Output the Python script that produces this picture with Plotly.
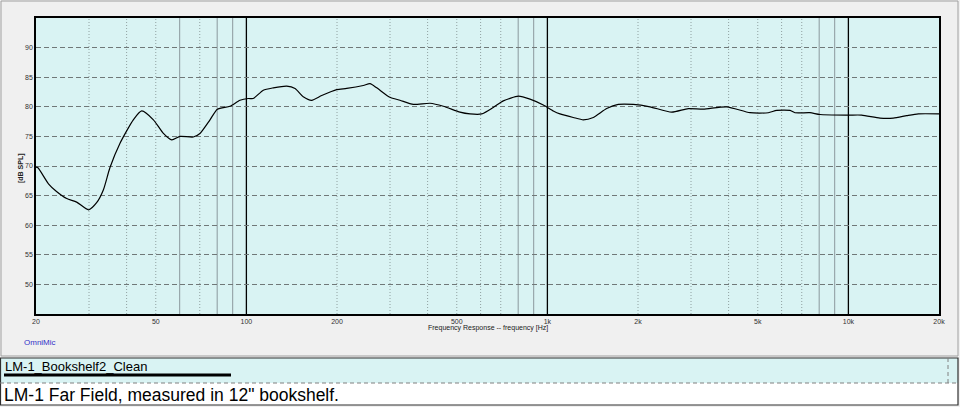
import plotly.graph_objects as go

# ---- data ----
freq_hz = [20, 20.3, 22.0, 23.4, 25.3, 27.3, 29.9, 31.8, 33.5, 35.2, 38.0, 42.1, 44.9, 49.1,
           53.0, 56.5, 60.2, 66.6, 70.1, 75.7, 80.1, 88.2, 95.2, 101.5, 105.4, 113.8, 122.9,
           136.1, 145.1, 154.5, 164.8, 177.9, 199.5, 215.4, 244.6, 257.5, 271.1, 300.0, 323.8,
           358.6, 407.4, 451.1, 512.5, 553.4, 605.0, 661.2, 713.8, 800.6, 875.5, 969.3, 1046,
           1101, 1219, 1316, 1421, 1574, 1720, 1929, 2192, 2588, 2938, 3296, 3943, 4712, 5420,
           5778, 6398, 6646, 7456, 8048, 9992, 11070, 12736, 14102, 15620, 17075, 20000]
spl_db = [69.8, 69.7, 67.0, 65.7, 64.5, 63.9, 62.6, 63.8, 66.0, 69.7, 73.8, 77.8, 79.3, 77.8,
          75.5, 74.4, 75.0, 74.9, 75.5, 77.8, 79.6, 80.1, 81.1, 81.4, 81.4, 82.8, 83.2,
          83.5, 83.1, 81.7, 81.1, 81.9, 82.9, 83.1, 83.6, 83.9, 83.2, 81.6, 81.1,
          80.4, 80.6, 80.1, 79.1, 78.8, 78.8, 79.9, 81.0, 81.8, 81.3, 80.3, 79.3,
          78.8, 78.2, 77.8, 78.2, 79.7, 80.4, 80.4, 80.0, 79.1, 79.7, 79.6, 80.0, 79.0, 79.0,
          79.4, 79.4, 79.0, 79.0, 78.7, 78.6, 78.6, 78.1, 78.1, 78.5, 78.8, 78.8]

x_tick_vals = [20, 50, 100, 200, 500, 1000, 2000, 5000, 10000, 20000]
x_tick_text = ["20", "50", "100", "200", "500", "1k", "2k", "5k", "10k", "20k"]
y_tick_vals = [50, 55, 60, 65, 70, 75, 80, 85, 90]

minor_grid_hz = [30, 40, 50, 60, 70, 80, 90, 200, 300, 400, 500, 600, 700, 800, 900,
                 2000, 3000, 4000, 5000, 6000, 7000, 8000, 9000]
solid_grid_hz = [60, 80, 90, 800, 900, 8000, 9000]
major_grid_hz = [100, 1000, 10000]

legend_name = "LM-1_Bookshelf2_Clean"
note_text = 'LM-1 Far Field, measured in 12" bookshelf.'

# ---- layout geometry (pixels) ----
W, H = 960, 407
L, T, R, B = 36, 18, 939, 314


def px(x):
    return (x - L) / (R - L)


def py(y):
    return (B - y) / (B - T)


fig = go.Figure()
fig.add_trace(go.Scatter(x=freq_hz, y=spl_db, mode="lines",
                         line=dict(color="black", width=1.2, shape="spline", smoothing=0.6),
                         name=legend_name, showlegend=False, hoverinfo="x+y"))

shapes = []
# outer panel frame
shapes.append(dict(type="rect", xref="paper", yref="paper", x0=px(1), x1=px(958),
                   y0=py(356), y1=py(1), line=dict(color="#a0a0a0", width=1), layer="below"))
# bottom legend box
shapes.append(dict(type="rect", xref="paper", yref="paper", x0=px(0), x1=px(958),
                   y0=py(383), y1=py(358), fillcolor="#d9f3f3", line=dict(width=0), layer="below"))
shapes.append(dict(type="rect", xref="paper", yref="paper", x0=px(0), x1=px(958),
                   y0=py(405), y1=py(383), fillcolor="#ffffff", line=dict(width=0), layer="below"))
shapes.append(dict(type="rect", xref="paper", yref="paper", x0=px(0.5), x1=px(958),
                   y0=py(405), y1=py(358), line=dict(color="#303030", width=1.2)))
shapes.append(dict(type="line", xref="paper", yref="paper", x0=px(0), x1=px(958),
                   y0=py(383), y1=py(383), line=dict(color="#808080", width=1, dash="4px,3px")))
shapes.append(dict(type="line", xref="paper", yref="paper", x0=px(948), x1=px(948),
                   y0=py(383), y1=py(358), line=dict(color="#808080", width=1, dash="4px,3px")))
shapes.append(dict(type="line", xref="paper", yref="paper", x0=px(4), x1=px(231),
                   y0=py(375), y1=py(375), line=dict(color="black", width=3)))

# vertical grid
for f in minor_grid_hz:
    if f in solid_grid_hz:
        shapes.append(dict(type="line", xref="x", yref="paper", x0=f, x1=f, y0=0, y1=1,
                           line=dict(color="#98a8ac", width=1.2), layer="below"))
    else:
        shapes.append(dict(type="line", xref="x", yref="paper", x0=f, x1=f, y0=0, y1=1,
                           line=dict(color="#90a0a0", width=1, dash="1px,2px"), layer="below"))
for f in major_grid_hz:
    shapes.append(dict(type="line", xref="x", yref="paper", x0=f, x1=f, y0=0, y1=1,
                       line=dict(color="black", width=1.3), layer="below"))

annotations = [
    dict(text="<b>[dB SPL]</b>", xref="paper", yref="paper", x=px(21), y=py(168), textangle=-90,
         showarrow=False, font=dict(family="Arial", size=7, color="#202020"),
         xanchor="center", yanchor="middle"),
    dict(text="Frequency Response -- frequency [Hz]", xref="paper", yref="paper",
         x=px(488), y=py(328), showarrow=False,
         font=dict(family="Arial", size=7, color="#202020"), xanchor="center", yanchor="middle"),
    dict(text="OmniMic", xref="paper", yref="paper", x=px(22), y=py(342), showarrow=False,
         font=dict(family="Arial", size=8, color="#3030c8"), xanchor="left", yanchor="middle"),
    dict(text=legend_name, xref="paper", yref="paper", x=px(3), y=py(366), showarrow=False,
         font=dict(family="Arial", size=13, color="black"), xanchor="left", yanchor="middle"),
    dict(text=note_text, xref="paper", yref="paper", x=px(2), y=py(395), showarrow=False,
         font=dict(family="Arial", size=17.5, color="black"), xanchor="left", yanchor="middle"),
]

fig.update_layout(
    width=W, height=H,
    margin=dict(l=L, r=W - R, t=T, b=H - B, pad=0),
    paper_bgcolor="#f0f0f0",
    plot_bgcolor="#d9f3f3",
    showlegend=False,
    shapes=shapes,
    annotations=annotations,
    xaxis=dict(type="log", range=[1.30103, 4.30103], tickvals=x_tick_vals, ticktext=x_tick_text,
               showgrid=False, zeroline=False, showline=True, linecolor="black", linewidth=1.5,
               mirror=True, ticks="", tickfont=dict(family="Arial", size=7, color="#303030")),
    yaxis=dict(range=[45, 95], tickvals=y_tick_vals, showgrid=True, gridcolor="#707878",
               griddash="5px,3px", gridwidth=1, zeroline=False, showline=True, linecolor="black",
               linewidth=1.5, mirror=True, ticks="",
               tickfont=dict(family="Arial", size=7, color="#303030")),
)

fig.write_html("out.html", config={"displayModeBar": False},
               post_script="document.body.style.margin='0px';document.body.style.overflow='hidden';")
